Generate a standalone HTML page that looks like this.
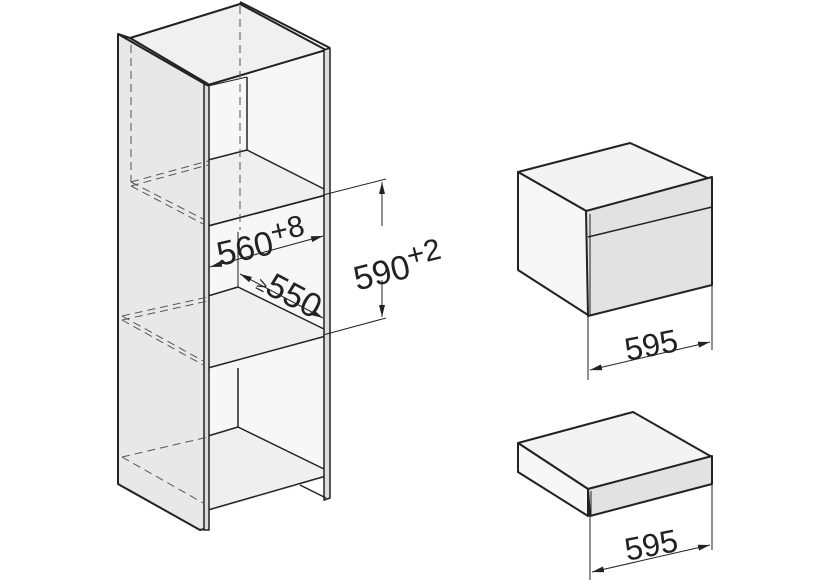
<!DOCTYPE html>
<html><head><meta charset="utf-8"><style>
html,body{margin:0;padding:0;background:#fff;}
svg{display:block;}
text{font-family:"Liberation Sans",sans-serif;fill:#222;}
</style></head><body>
<svg width="830" height="582" viewBox="0 0 830 582" xmlns="http://www.w3.org/2000/svg">
<defs>
<marker id="ar" viewBox="0 0 12 6" refX="12" refY="3" markerWidth="12" markerHeight="6" orient="auto-start-reverse" markerUnits="userSpaceOnUse">
<path d="M0,0 L12,3 L0,6 z" fill="#222"/></marker>
</defs>
<g stroke="#222" stroke-linejoin="round">
<polygon points="130,38 240,4 326,50 208,85" fill="#f0f0f0" stroke-width="2"/>
<polygon points="118,34 130,38 208,84 208,528 200,530 118,484" fill="#e8e8e8" stroke-width="2"/>
<line x1="118" y1="34" x2="205" y2="84" stroke-width="2"/>
<polygon points="210,86 326,52 326,478 210,512" fill="#f7f7f7" stroke="none"/>
<line x1="247" y1="77" x2="247" y2="150" stroke-width="1.5"/>
<line x1="238" y1="232" x2="238" y2="287" stroke-width="1"/>
<line x1="238" y1="368" x2="238" y2="427" stroke-width="1.5"/>
<line x1="208" y1="86" x2="247" y2="77" stroke-width="1"/>
<polygon points="208,160 247,150 326,190 326,195 208,226" fill="#efefef" stroke-width="1.5"/>
<line x1="208" y1="226" x2="326" y2="195" stroke-width="1.5"/>
<polygon points="208,296 238,287 326,330 326,336 208,368" fill="#efefef" stroke-width="1.5"/>
<polygon points="208,436 238,427 326,470 326,476 208,510" fill="#efefef" stroke-width="1.5"/>
<polygon points="324,50 330,48 330,498 324,500" fill="#ddd" stroke-width="1.5"/>
<line x1="300" y1="485" x2="326" y2="498" stroke-width="1.5"/>
<polygon points="204,84 209,86 209,530 204,530" fill="#ddd" stroke-width="1.5"/>
<line x1="240" y1="2" x2="330" y2="48" stroke-width="2"/>
</g>
<g stroke="#555" stroke-width="1" fill="none" stroke-dasharray="8,5">
<line x1="131" y1="45" x2="131" y2="182"/>
<line x1="240" y1="6" x2="240" y2="230"/>
<line x1="131" y1="182" x2="208" y2="161"/>
<line x1="131" y1="186" x2="208" y2="165"/>
<line x1="131" y1="182" x2="205" y2="220"/>
<line x1="131" y1="186" x2="205" y2="225"/>
<line x1="122" y1="316" x2="208" y2="297"/>
<line x1="122" y1="320" x2="208" y2="301"/>
<line x1="122" y1="316" x2="205" y2="362"/>
<line x1="122" y1="320" x2="205" y2="366"/>
<line x1="122" y1="457" x2="208" y2="437"/>
<line x1="122" y1="457" x2="205" y2="504"/>
</g>
<g stroke="#222" stroke-width="1" fill="none">
<line x1="323" y1="195" x2="386" y2="179"/>
<line x1="323" y1="335" x2="386" y2="318"/>
<line x1="382" y1="226" x2="382" y2="182" marker-end="url(#ar)"/>
<line x1="382" y1="280" x2="382" y2="317" marker-end="url(#ar)"/>
<line x1="210" y1="267" x2="323" y2="236" marker-start="url(#ar)" marker-end="url(#ar)"/>
<line x1="240" y1="274" x2="323" y2="318" marker-start="url(#ar)" marker-end="url(#ar)"/>
</g>
<text x="262" y="256" font-size="34" text-anchor="middle" transform="rotate(-13 262 246)">560<tspan font-size="30" dy="-11">+8</tspan></text>
<text x="290" y="303" font-size="34" text-anchor="middle" transform="rotate(28 286 292)"><tspan font-size="18">≥</tspan>550</text>
<text x="398" y="280" font-size="34" text-anchor="middle" transform="rotate(-14 398 267)">590<tspan font-size="30" dy="-11">+2</tspan></text>
<g stroke="#222" stroke-width="2" stroke-linejoin="round">
<polygon points="518,172 630,143 712,180 588,212" fill="#f3f3f3"/>
<polygon points="518,172 588,212 588,315 518,270" fill="#f7f7f7"/>
<polygon points="586,211 712,177 712,285 588,316" fill="#e2e2e2"/>
<line x1="588" y1="237" x2="712" y2="207" stroke-width="1.5"/>
<line x1="590" y1="214" x2="590" y2="315" stroke-width="1"/>
</g>
<g stroke="#222" stroke-width="1" fill="none">
<line x1="588" y1="316" x2="588" y2="380"/>
<line x1="712" y1="285" x2="712" y2="350"/>
<line x1="590" y1="370" x2="710" y2="342" marker-start="url(#ar)" marker-end="url(#ar)"/>
</g>
<text x="651" y="356" font-size="32" text-anchor="middle" transform="rotate(-11 651 344)">595</text>
<g stroke="#222" stroke-width="2" stroke-linejoin="round">
<polygon points="518,443 633,412 712,457 588,489" fill="#f3f3f3"/>
<polygon points="518,443 588,489 588,516 518,472" fill="#f7f7f7"/>
<polygon points="588,489 712,456 712,484 590,516" fill="#e2e2e2"/>
<line x1="591" y1="491" x2="591" y2="515" stroke-width="1"/>
</g>
<g stroke="#222" stroke-width="1" fill="none">
<line x1="590" y1="516" x2="590" y2="580"/>
<line x1="712" y1="484" x2="712" y2="550"/>
<line x1="592" y1="572" x2="710" y2="545" marker-start="url(#ar)" marker-end="url(#ar)"/>
</g>
<text x="651" y="556" font-size="32" text-anchor="middle" transform="rotate(-11 651 544)">595</text>
</svg>
</body></html>
